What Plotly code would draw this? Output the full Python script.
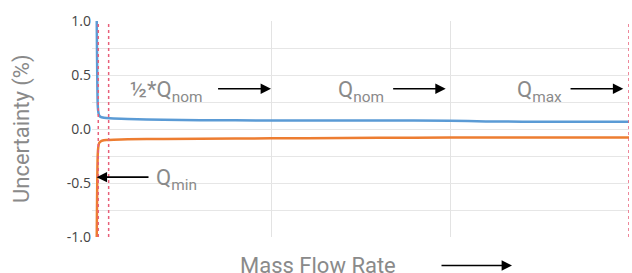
import plotly.graph_objects as go

# ---- data ----
flow_x = [0.024, 0.027, 0.030, 0.032, 0.035, 0.040, 0.048, 0.060, 0.080, 0.12, 0.20, 0.40,
          0.80, 1.20, 1.60, 2.00, 2.20, 2.60, 3.00]
upper_unc = [1.60, 0.90, 0.40, 0.22, 0.16, 0.125, 0.113, 0.106, 0.102, 0.097, 0.092, 0.085,
             0.080, 0.079, 0.079, 0.077, 0.070, 0.067, 0.067]
lower_unc = [-1.60, -0.90, -0.40, -0.24, -0.17, -0.13, -0.115, -0.106, -0.102, -0.099, -0.096,
             -0.092, -0.088, -0.085, -0.082, -0.079, -0.078, -0.078, -0.078]

ref_lines_x = [0.035, 0.093, 3.0]
y_ticks = [1.0, 0.5, 0.0, -0.5, -1.0]
y_tick_labels = ["1.0", "0.5", "0.0", "-0.5", "-1.0"]

labels = ["½*Q<sub>nom</sub>", "Q<sub>nom</sub>", "Q<sub>max</sub>", "Q<sub>min</sub>"]
label_x = [0.20, 1.363, 2.363, 0.345]
label_y = [0.35, 0.35, 0.35, -0.47]
arrow_tail_x = [0.696, 1.674, 2.665, 0.324]
arrow_head_x = [1.0, 1.976, 2.968, 0.026]
arrow_y = [0.372, 0.372, 0.372, -0.446]

GRAY = "#8a8a8a"

fig = go.Figure()
fig.add_trace(go.Scatter(x=flow_x, y=upper_unc, mode="lines",
                         line=dict(color="#5b9bd5", width=2.5, shape="spline", smoothing=0.6),
                         showlegend=False))
fig.add_trace(go.Scatter(x=flow_x, y=lower_unc, mode="lines",
                         line=dict(color="#ed7d31", width=2.5, shape="spline", smoothing=0.6),
                         showlegend=False))

for xv in ref_lines_x:
    fig.add_vline(x=xv, line=dict(color="#e8607a", width=1.5, dash="dot"))

for t, lx, ly in zip(labels, label_x, label_y):
    fig.add_annotation(x=lx, y=ly, xref="x", yref="y", text=t, showarrow=False,
                       xanchor="left", yanchor="middle",
                       font=dict(family="Roboto", size=22, color=GRAY))

for tx, hx, ay in zip(arrow_tail_x, arrow_head_x, arrow_y):
    fig.add_annotation(x=hx, y=ay, ax=tx, ay=ay, xref="x", yref="y", axref="x", ayref="y",
                       text="", showarrow=True, arrowhead=2, arrowsize=1.3,
                       arrowwidth=1.6, arrowcolor="black", standoff=0)

# axis titles
fig.add_annotation(x=(238 - 92) / 537, y=-0.132, xref="paper", yref="paper",
                   text="Mass Flow Rate", showarrow=False, xanchor="left", yanchor="middle",
                   font=dict(family="Roboto", size=22, color=GRAY))
fig.add_annotation(x=(512 - 92) / 537, y=-0.132, xref="paper", yref="paper",
                   ax=-72, ay=0, text="", showarrow=True, arrowhead=2, arrowsize=1.3,
                   arrowwidth=1.6, arrowcolor="black", standoff=0)
fig.add_annotation(x=(22 - 92) / 537, y=0.5, xref="paper", yref="paper",
                   text="Uncertainty (%)", showarrow=False, textangle=-90,
                   xanchor="center", yanchor="middle",
                   font=dict(family="Roboto", size=22, color=GRAY))

fig.update_xaxes(range=[0, 3], tickvals=[0, 1, 2, 3], showticklabels=False,
                 showgrid=True, gridcolor="#e3e3e3", gridwidth=1, zeroline=False,
                 showline=False, ticks="")
fig.update_yaxes(range=[-1, 1], tickvals=y_ticks, ticktext=y_tick_labels,
                 showgrid=True, gridcolor="#e6e6e6", zeroline=False, showline=False,
                 minor=dict(dtick=0.25, showgrid=True, gridcolor="#e6e6e6"),
                 tickfont=dict(family="Open Sans", size=14, color="#444"), ticks="")

fig.update_layout(width=632, height=273, margin=dict(l=92, r=3, t=21, b=36),
                  plot_bgcolor="white", paper_bgcolor="white")

fig.write_html("out.html", config={"displayModeBar": False},
               post_script="document.body.style.margin='0';")
